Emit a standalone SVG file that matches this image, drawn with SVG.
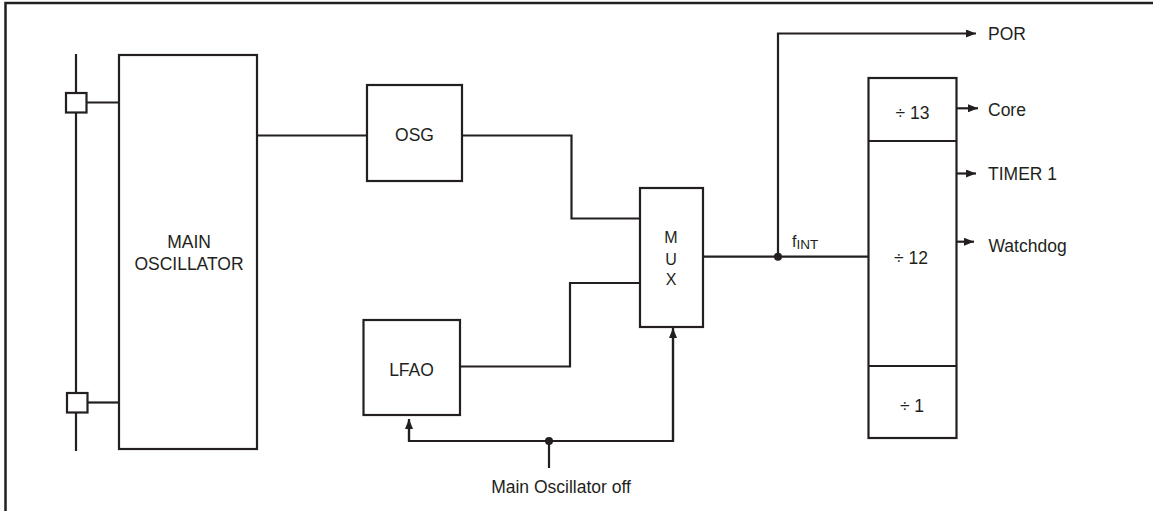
<svg xmlns="http://www.w3.org/2000/svg" width="1153" height="511" viewBox="0 0 1153 511">
<style>
.b{fill:#fff;stroke:#231f20;stroke-width:2.2}
.w{fill:none;stroke:#231f20;stroke-width:2.2}
.t{font-family:"Liberation Sans",Arial,sans-serif;font-size:17.5px;fill:#231f20}
.m{text-anchor:middle}
</style>
<defs>
<marker id="ar" viewBox="0 0 10 8" refX="10" refY="4" markerWidth="10" markerHeight="8" markerUnits="userSpaceOnUse" orient="auto">
<path d="M0,0 L10,4 L0,8 Z" fill="#231f20"/>
</marker>
</defs>
<rect width="1153" height="511" fill="#fff"/>
<path d="M5.5,511 V3 H1153" fill="none" stroke="#231f20" stroke-width="2.5"/>

<g id="connectors">
<path class="w" d="M76,54 V451"/>
<path class="w" d="M86,102.5 H119"/>
<path class="w" d="M87,402.5 H119"/>
<path class="w" d="M257,135.5 H367"/>
<path class="w" d="M462,135.5 H571.5 V218.5 H640"/>
<path class="w" d="M640,283 H570 V366.5 H460"/>
<path class="w" d="M703,256.7 H868"/>
<path class="w" d="M778,256.7 V33.5 H976" marker-end="url(#ar)"/>
<path class="w" d="M549,441 V468"/>
<path class="w" d="M409,420 V441 H673 V329"/>
<path class="w" d="M409,441 V419" marker-end="url(#ar)"/>
<path class="w" d="M673,441 V328" marker-end="url(#ar)"/>
<path class="w" d="M957,108.3 H978" marker-end="url(#ar)"/>
<path class="w" d="M957,173.5 H976" marker-end="url(#ar)"/>
<path class="w" d="M956,241.7 H974" marker-end="url(#ar)"/>
<circle cx="778" cy="256.7" r="4" fill="#231f20"/>
<circle cx="549" cy="441" r="4" fill="#231f20"/>
</g>

<g id="pin1"><rect class="b" x="66" y="93" width="20.5" height="19.5"/></g>
<g id="pin2"><rect class="b" x="67" y="393" width="20.5" height="19.5"/></g>

<g id="main-osc">
<rect class="b" x="119" y="55" width="138" height="394"/>
<text class="t m" x="189" y="248">MAIN</text>
<text class="t m" x="189" y="270">OSCILLATOR</text>
</g>

<g id="osg">
<rect class="b" x="367" y="85" width="95" height="96"/>
<text class="t m" x="414.5" y="141">OSG</text>
</g>

<g id="lfao">
<rect class="b" x="363.5" y="320" width="96.5" height="95"/>
<text class="t m" x="411.5" y="376">LFAO</text>
</g>

<g id="mux">
<rect class="b" x="640" y="188" width="63" height="139"/>
<text class="t m" x="671" y="242.5" style="font-size:16px">M</text>
<text class="t m" x="671" y="264.5" style="font-size:16px">U</text>
<text class="t m" x="671" y="284.5" style="font-size:16px">X</text>
</g>

<g id="fint">
<text class="t" x="792" y="246.5" style="font-size:16px">f<tspan dy="2" style="font-size:13.5px">INT</tspan></text>
</g>

<g id="divider">
<rect class="b" x="868.5" y="78" width="88" height="360"/>
<path class="w" d="M868.5,141 H956.5 M868.5,366 H956.5"/>
<text class="t m" x="912.5" y="118.5">÷ 13</text>
<text class="t m" x="911" y="264">÷ 12</text>
<text class="t m" x="912" y="412">÷ 1</text>
</g>

<g id="outputs">
<text class="t" x="988" y="40">POR</text>
<text class="t" x="988" y="115.5">Core</text>
<text class="t" x="988" y="180">TIMER 1</text>
<text class="t" x="988.5" y="251.5">Watchdog</text>
<text class="t m" x="561" y="493">Main Oscillator off</text>
</g>
</svg>
